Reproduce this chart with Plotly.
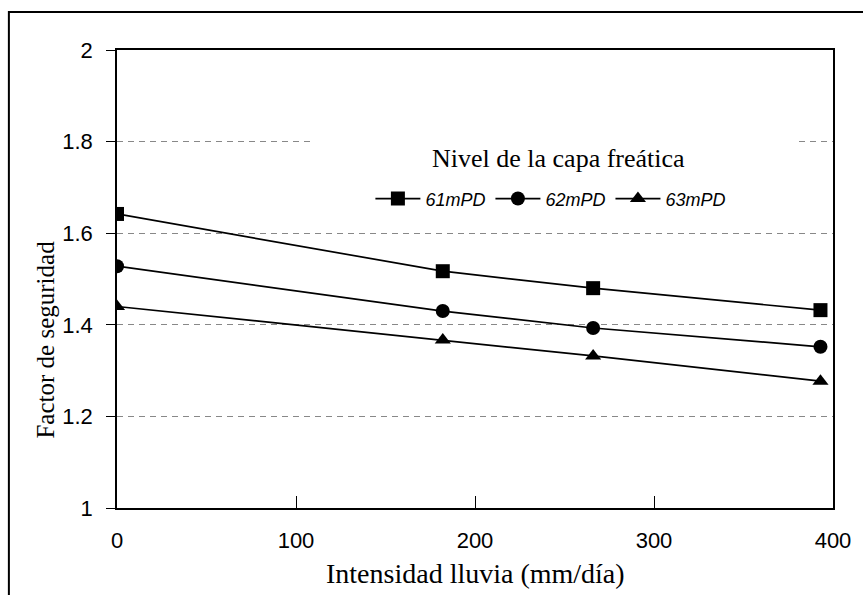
import plotly.graph_objects as go

# Rainfall intensity (mm/day) and safety factor for three water-table levels
intensidad = [0, 182, 266, 393]
fs_61 = [1.642, 1.517, 1.480, 1.432]
fs_62 = [1.528, 1.430, 1.393, 1.352]
fs_63 = [1.440, 1.367, 1.332, 1.277]

series = [
    ("61mPD", fs_61, "square"),
    ("62mPD", fs_62, "circle"),
    ("63mPD", fs_63, "triangle-up"),
]

y_ticks = [1, 1.2, 1.4, 1.6, 1.8, 2]
y_labels = ["1", "1.2", "1.4", "1.6", "1.8", "2"]
x_ticks = [0, 100, 200, 300, 400]

SERIF = "Liberation Serif, Times New Roman"
SANS = "Liberation Sans, Arial"

fig = go.Figure()
for name, vals, sym in series:
    fig.add_trace(go.Scatter(
        x=intensidad, y=vals, name=name, mode="lines+markers",
        line=dict(color="black", width=1.7),
        marker=dict(symbol=sym, size=14, color="black"),
    ))

fig.update_layout(
    width=863, height=595,
    margin=dict(l=117, r=24, t=50, b=87),
    paper_bgcolor="white", plot_bgcolor="white",
    showlegend=True,
    legend=dict(
        orientation="h", x=0.606, xanchor="center", y=0.675, yanchor="middle",
        bgcolor="rgba(0,0,0,0)",
        font=dict(family=SANS, size=18, color="black", style="italic"),
        itemwidth=45, tracegroupgap=0,
    ),
    xaxis=dict(
        range=[0, 400], tickvals=x_ticks, ticks="inside", ticklen=12, tickcolor="black",
        showline=True, linecolor="black", linewidth=1.5, mirror=True,
        showgrid=False, zeroline=False, ticklabelstandoff=12,
        tickfont=dict(family=SANS, size=22, color="black"),
    ),
    yaxis=dict(
        range=[1, 2], tickvals=y_ticks, ticktext=y_labels, ticks="outside", ticklen=9, tickcolor="black",
        showline=True, linecolor="black", linewidth=1.5, mirror=True,
        showgrid=True, gridcolor="#888888", gridwidth=1, griddash="6px,5px", zeroline=False,
        ticklabelstandoff=9,
        tickfont=dict(family=SANS, size=22, color="black"),
    ),
)

# axis titles and legend heading
fig.add_annotation(
    text="Intensidad lluvia (mm/día)", xref="paper", yref="paper",
    x=0.5, y=-0.142, xanchor="center", yanchor="middle", showarrow=False,
    font=dict(family=SERIF, size=28, color="black"),
)
fig.add_annotation(
    text="Factor de seguridad", textangle=-90, xref="paper", yref="paper",
    x=-0.0997, y=0.367, xanchor="center", yanchor="middle", showarrow=False,
    font=dict(family=SERIF, size=25, color="black"),
)
fig.add_annotation(
    text="Nivel de la capa freática", xref="paper", yref="paper",
    x=0.617, y=0.764, xanchor="center", yanchor="middle", showarrow=False,
    font=dict(family=SERIF, size=26, color="black"),
)

# white panel behind the legend hides the 1.8 grid line there
fig.add_shape(type="rect", xref="x", yref="y", x0=110, x1=380, y0=1.72, y1=1.86,
              fillcolor="white", line=dict(width=0), layer="between")

# outer figure frame
fig.add_shape(type="rect", xref="paper", yref="paper", x0=-0.151, x1=1.2, y0=-0.3, y1=1.083,
              line=dict(color="black", width=2), fillcolor="rgba(0,0,0,0)", layer="above")

fig.write_html("out.html")
